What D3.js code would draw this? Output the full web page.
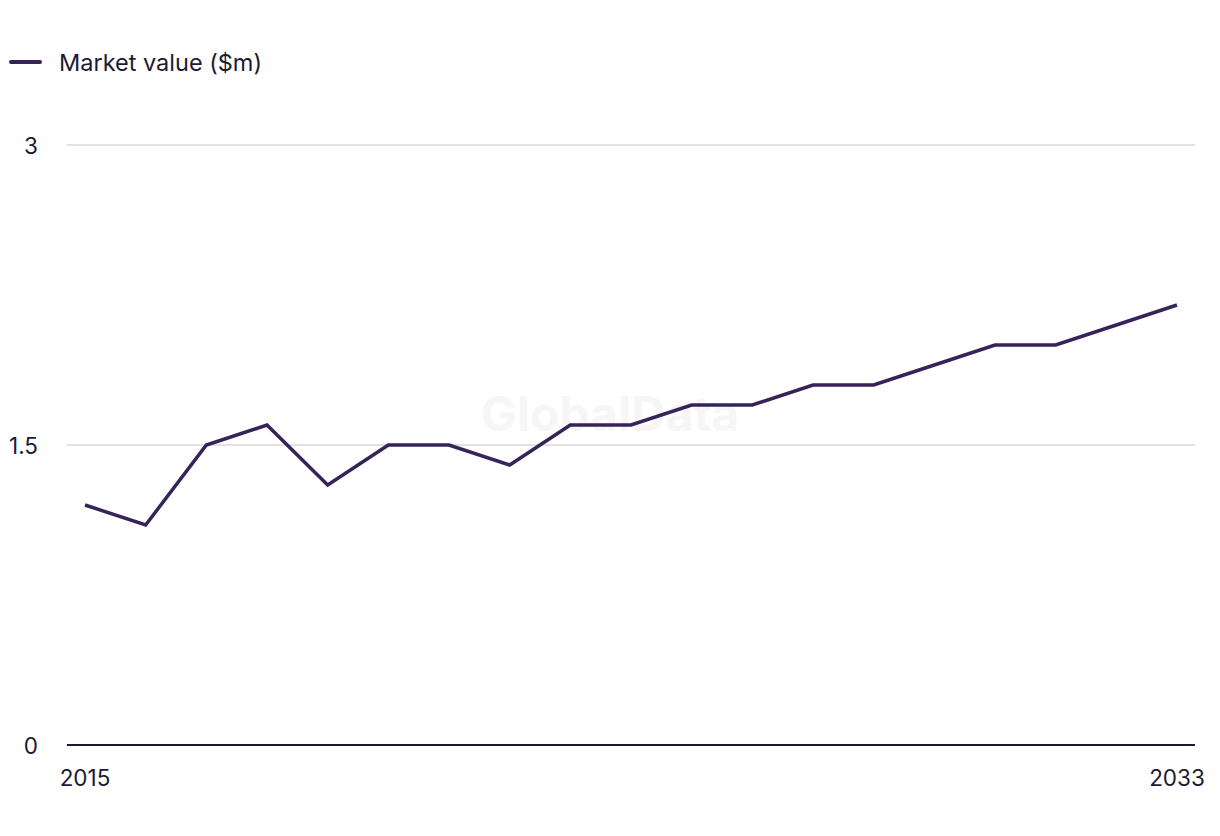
<!DOCTYPE html>
<html><head><meta charset="utf-8">
<script src="https://cdn.jsdelivr.net/npm/d3@7"></script>
<style>body{margin:0;background:#fff;} text{font-family:Inter,"Noto Sans",sans-serif;}</style>
</head><body>
<svg id="c" width="1220" height="836"></svg>
<script>
const years = [2015,2016,2017,2018,2019,2020,2021,2022,2023,2024,2025,2026,2027,2028,2029,2030,2031,2032,2033];
const marketValue = [1.2,1.1,1.5,1.6,1.3,1.5,1.5,1.4,1.6,1.6,1.7,1.7,1.8,1.8,1.9,2.0,2.0,2.1,2.2];
const yTicks = [0,1.5,3];
const xTickLabels = [2015,2033];
const seriesName = "Market value ($m)";

const svg = d3.select("#c");
const x = d3.scaleLinear().domain([2015,2033]).range([85,1177]);
const y = d3.scaleLinear().domain([0,3]).range([745,145]);

svg.append("text").attr("x",610).attr("y",418).attr("text-anchor","middle").attr("dominant-baseline","middle")
  .attr("font-size",48).attr("font-weight",700).attr("fill","#f6f6f6").text("GlobalData");

const gy = svg.append("g");
yTicks.forEach(t=>{
  gy.append("line").attr("x1",67).attr("x2",1195).attr("y1",y(t)).attr("y2",y(t))
    .attr("stroke", t===0 ? "#1c1a33" : "#d9d9d9").attr("stroke-width", t===0?2:1.5);
  gy.append("text").attr("x",38).attr("y",y(t)).attr("text-anchor","end").attr("dominant-baseline","central")
    .attr("font-size",22.5).attr("fill","#1c1a33").text(t);
});
xTickLabels.forEach(t=>{
  svg.append("text").attr("x",x(t)).attr("y",777).attr("text-anchor","middle").attr("dominant-baseline","central")
    .attr("font-size",22.5).attr("fill","#1c1a33").text(t);
});

svg.append("path").datum(years.map((d,i)=>[d,marketValue[i]]))
  .attr("d", d3.line().x(d=>x(d[0])).y(d=>y(d[1])))
  .attr("fill","none").attr("stroke","#35235a").attr("stroke-width",3.5).attr("stroke-linejoin","miter");

svg.append("line").attr("x1",11).attr("x2",40).attr("y1",62).attr("y2",62).attr("stroke","#35235a").attr("stroke-width",4).attr("stroke-linecap","round");
svg.append("text").attr("x",59).attr("y",62).attr("dominant-baseline","central").attr("font-size",23.5).attr("fill","#1c1a33").text(seriesName);
</script>
</body></html>
